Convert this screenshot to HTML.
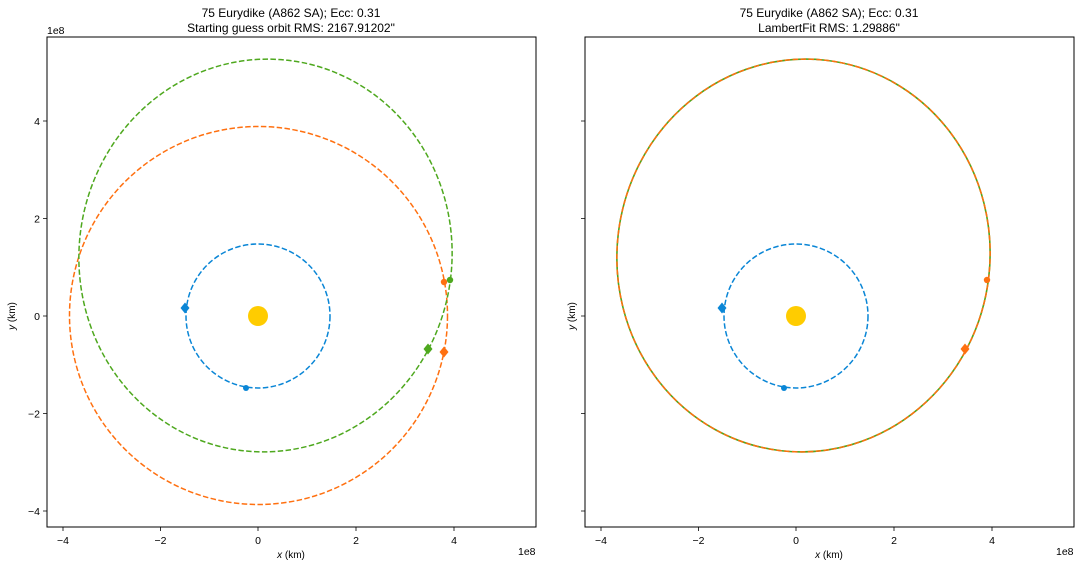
<!DOCTYPE html>
<html><head><style>body{margin:0;background:#fff}svg{display:block;font-family:"Liberation Sans",sans-serif}</style></head><body>
<svg width="1080" height="568" xmlns="http://www.w3.org/2000/svg">
<rect width="1080" height="568" fill="#fff"/>
<!-- LEFT -->
<g>
<text x="291" y="17" font-size="12" text-anchor="middle">75 Eurydike (A862 SA); Ecc: 0.31</text>
<text x="291" y="32" font-size="12" text-anchor="middle">Starting guess orbit RMS: 2167.91202"</text>
<g fill="none" stroke-width="1.5" stroke-dasharray="5.5,2.4">
<circle cx="258" cy="316" r="72" stroke="#0a86d6"/>
<circle cx="258.5" cy="315.5" r="189" stroke="#ff7010"/>
<ellipse cx="265.5" cy="255.5" rx="186.5" ry="196.5" transform="rotate(6.5 265.5 255.5)" stroke="#4ea81e"/>
</g>
<circle cx="258" cy="316" r="10" fill="#ffcc00"/>
<path d="M185 302.5l4.5 5.5-4.5 5.5-4.5-5.5z" fill="#0a86d6"/>
<circle cx="246" cy="388" r="3" fill="#0a86d6"/>
<circle cx="444" cy="282" r="3.2" fill="#ff7010"/>
<path d="M444 346.5l4.5 5.5-4.5 5.5-4.5-5.5z" fill="#ff7010"/>
<circle cx="450" cy="280" r="3.2" fill="#4ea81e"/>
<path d="M428 343.5l4.5 5.5-4.5 5.5-4.5-5.5z" fill="#4ea81e"/>
<rect x="47" y="37" width="489" height="490" fill="none" stroke="#000" stroke-width="1"/>
<g stroke="#000" stroke-width="0.8">
<path d="M63 527v4M160.5 527v4M258 527v4M356 527v4M454 527v4M47 121h-4M47 218.5h-4M47 316h-4M47 413.5h-4M47 511h-4"/>
</g>
<g font-size="10.5" text-anchor="middle">
<text x="63" y="544">−4</text><text x="160.5" y="544">−2</text><text x="258" y="544">0</text><text x="356" y="544">2</text><text x="454" y="544">4</text>
</g>
<g font-size="10.5" text-anchor="end">
<text x="40" y="125">4</text><text x="40" y="222.5">2</text><text x="40" y="320">0</text><text x="40" y="417.5">−2</text><text x="40" y="515">−4</text>
</g>
<text x="47" y="34" font-size="10.5">1e8</text>
<text x="518" y="555" font-size="10.5">1e8</text>
<text x="291" y="558" font-size="10" text-anchor="middle"><tspan font-style="italic">x</tspan> (km)</text>
<text transform="translate(15 316) rotate(-90)" font-size="10" text-anchor="middle"><tspan font-style="italic">y</tspan> (km)</text>
</g>
<!-- RIGHT -->
<g>
<text x="829" y="17" font-size="12" text-anchor="middle">75 Eurydike (A862 SA); Ecc: 0.31</text>
<text x="829" y="32" font-size="12" text-anchor="middle">LambertFit RMS: 1.29886"</text>
<g fill="none" stroke-width="1.5" stroke-dasharray="5.5,2.4">
<circle cx="796" cy="316" r="72" stroke="#0a86d6"/>
<ellipse cx="803.5" cy="255.5" rx="186.5" ry="196.5" transform="rotate(6.5 803.5 255.5)" stroke="#4ea81e" stroke-dasharray="none" stroke-width="1.6"/>
<ellipse cx="803.5" cy="255.5" rx="186.5" ry="196.5" transform="rotate(6.5 803.5 255.5)" stroke="#ff7010"/>
</g>
<circle cx="796" cy="316" r="10" fill="#ffcc00"/>
<path d="M722 302.5l4.5 5.5-4.5 5.5-4.5-5.5z" fill="#0a86d6"/>
<circle cx="784" cy="388" r="3" fill="#0a86d6"/>
<circle cx="987" cy="280" r="3.2" fill="#ff7010"/>
<path d="M965 343.5l4.5 5.5-4.5 5.5-4.5-5.5z" fill="#ff7010"/>
<rect x="585" y="37" width="489" height="490" fill="none" stroke="#000" stroke-width="1"/>
<g stroke="#000" stroke-width="0.8">
<path d="M601 527v4M698.5 527v4M796 527v4M894 527v4M992 527v4M585 121h-4M585 218.5h-4M585 316h-4M585 413.5h-4M585 511h-4"/>
</g>
<g font-size="10.5" text-anchor="middle">
<text x="601" y="544">−4</text><text x="698.5" y="544">−2</text><text x="796" y="544">0</text><text x="894" y="544">2</text><text x="992" y="544">4</text>
</g>
<text x="1056" y="555" font-size="10.5">1e8</text>
<text x="829" y="558" font-size="10" text-anchor="middle"><tspan font-style="italic">x</tspan> (km)</text>
<text transform="translate(575 316) rotate(-90)" font-size="10" text-anchor="middle"><tspan font-style="italic">y</tspan> (km)</text>
</g>
</svg>
</body></html>
